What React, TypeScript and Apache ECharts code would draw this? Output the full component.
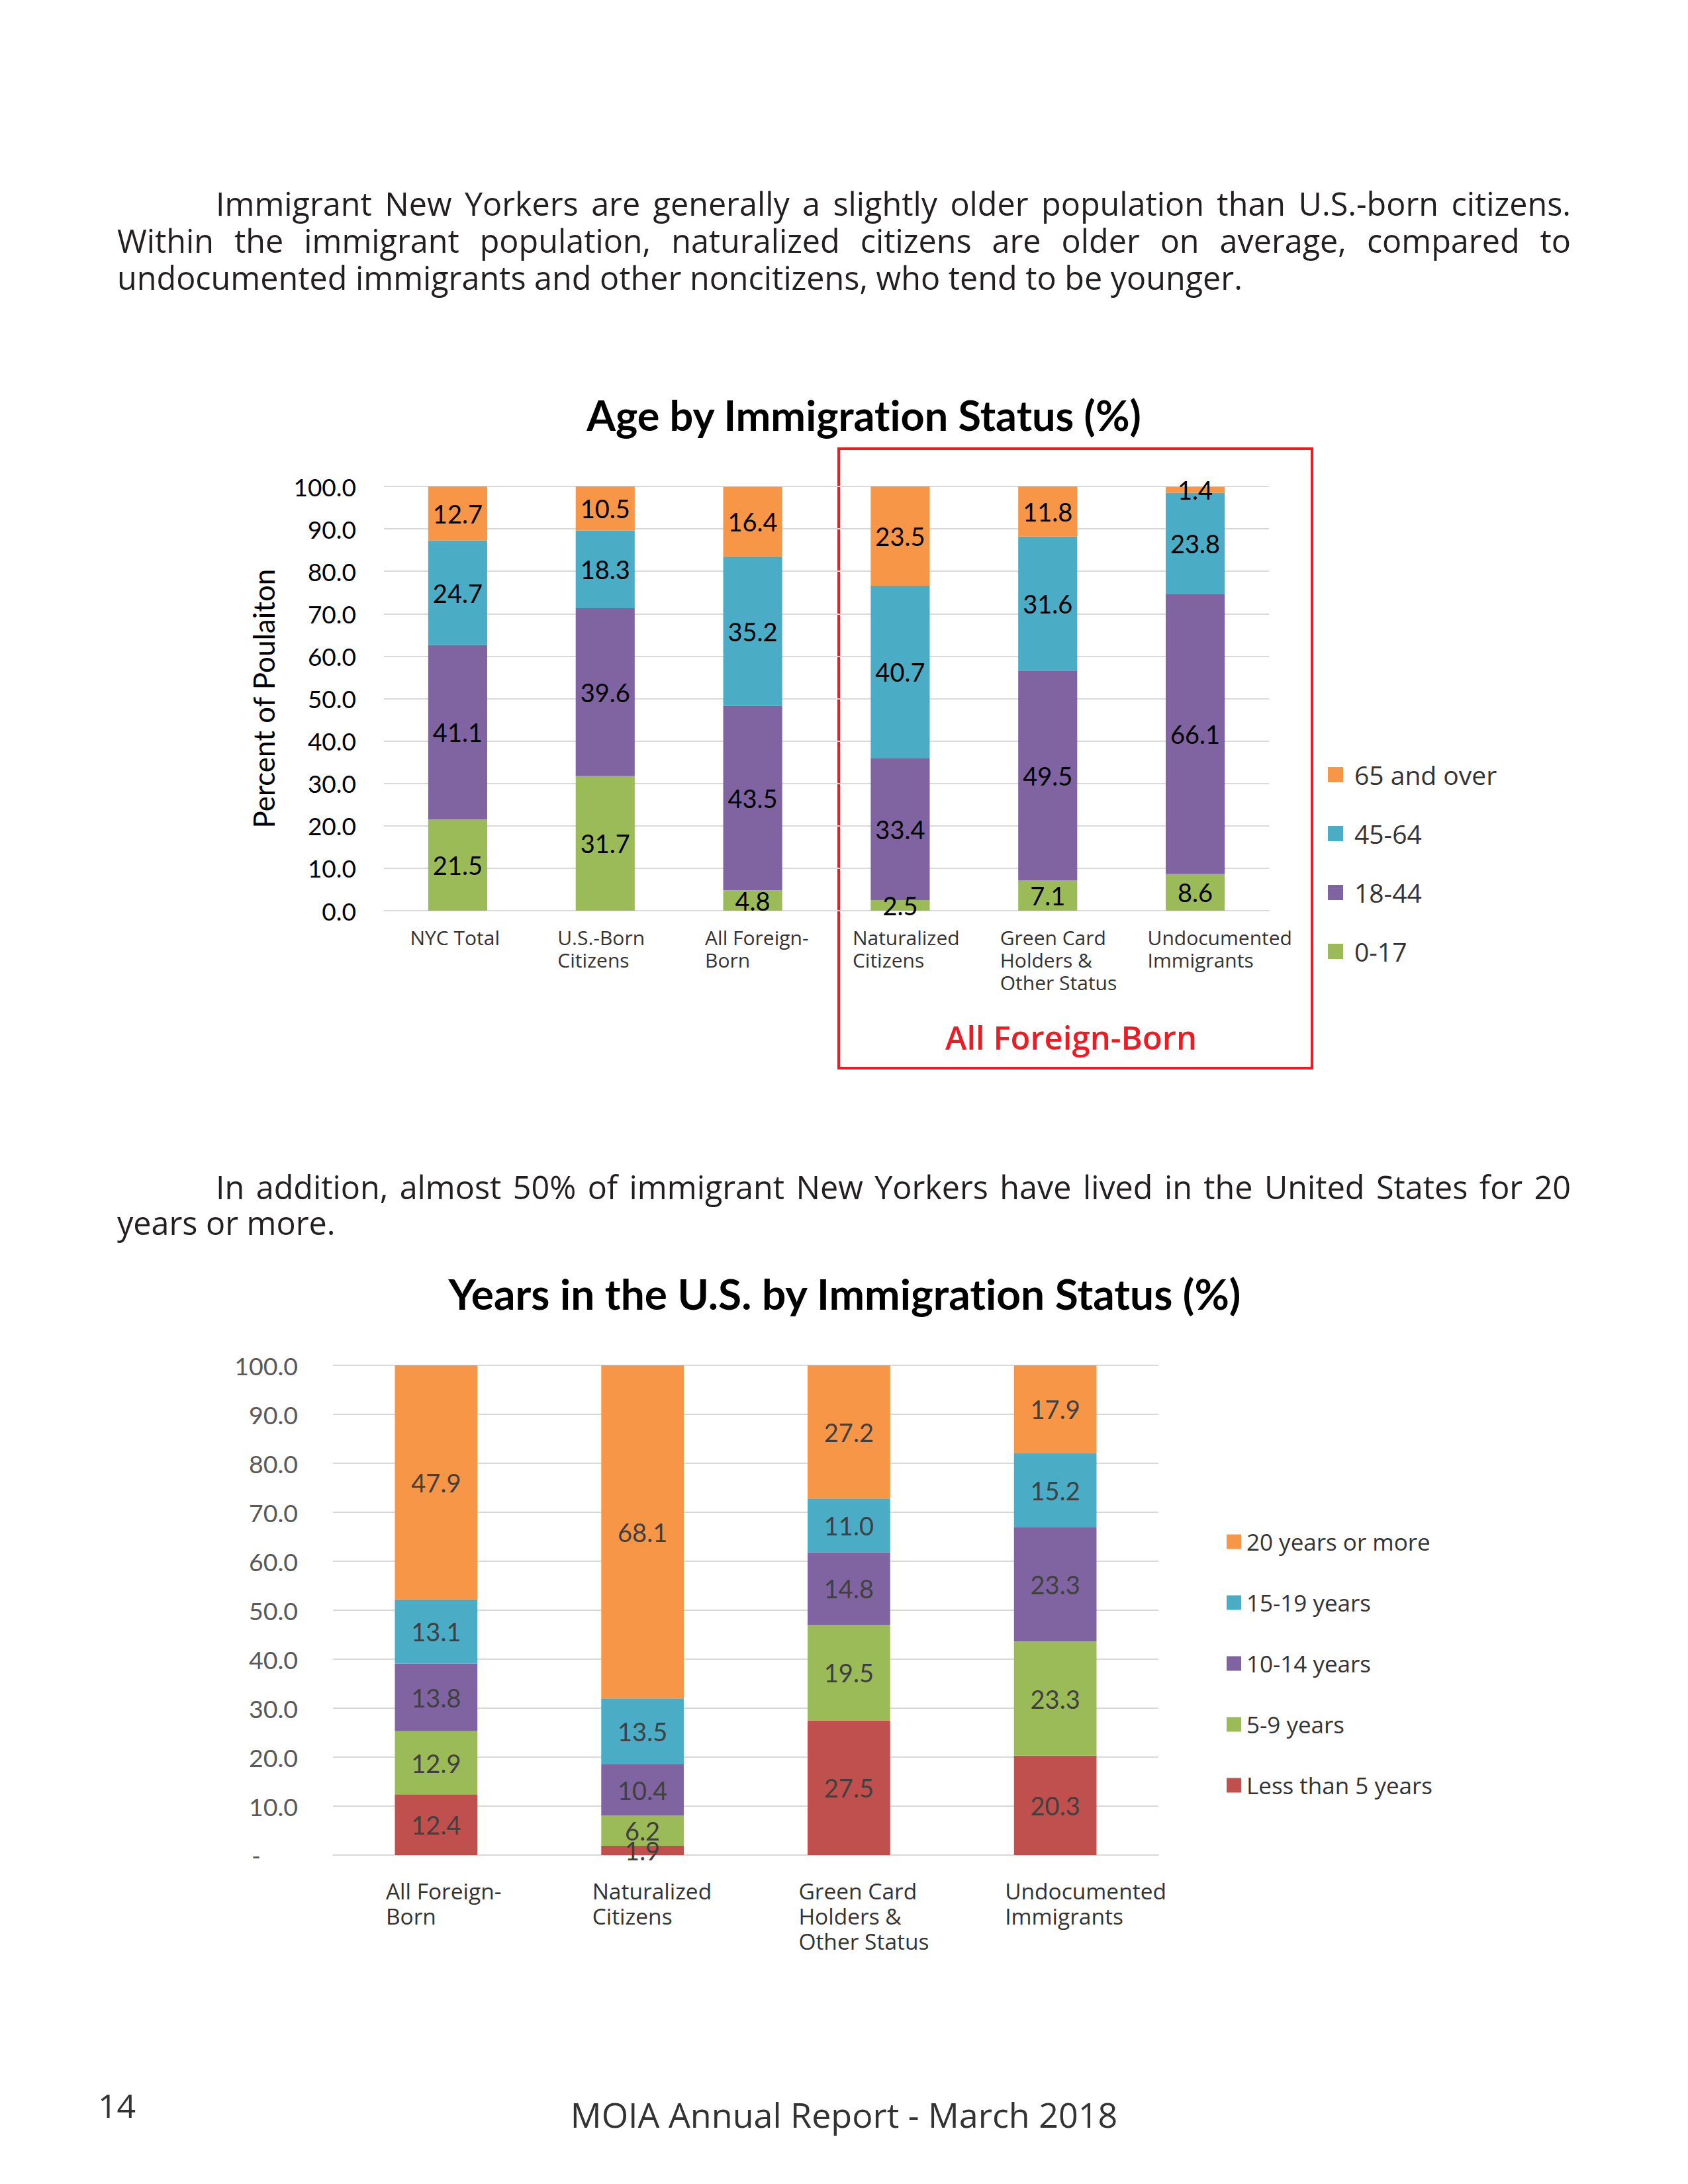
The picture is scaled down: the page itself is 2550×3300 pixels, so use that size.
import React, { useEffect, useRef } from 'react';
import * as echarts from 'echarts';

// ---------- DATA ----------
const ageCategories = [
  'NYC Total',
  'U.S.-Born\nCitizens',
  'All Foreign-\nBorn',
  'Naturalized\nCitizens',
  'Green Card\nHolders &\nOther Status',
  'Undocumented\nImmigrants',
];
const ageGroupNames = ['0-17', '18-44', '45-64', '65 and over'];
const age0to17 = [21.5, 31.7, 4.8, 2.5, 7.1, 8.6];
const age18to44 = [41.1, 39.6, 43.5, 33.4, 49.5, 66.1];
const age45to64 = [24.7, 18.3, 35.2, 40.7, 31.6, 23.8];
const age65plus = [12.7, 10.5, 16.4, 23.5, 11.8, 1.4];
const ageLegendOrder = ['65 and over', '45-64', '18-44', '0-17'];

const yearsCategories = [
  'All Foreign-\nBorn',
  'Naturalized\nCitizens',
  'Green Card\nHolders &\nOther Status',
  'Undocumented\nImmigrants',
];
const yearsGroupNames = ['Less than 5 years', '5-9 years', '10-14 years', '15-19 years', '20 years or more'];
const yearsLess5 = [12.4, 1.9, 27.5, 20.3];
const years5to9 = [12.9, 6.2, 19.5, 23.3];
const years10to14 = [13.8, 10.4, 14.8, 23.3];
const years15to19 = [13.1, 13.5, 11.0, 15.2];
const years20plus = [47.9, 68.1, 27.2, 17.9];
const yearsLegendOrder = ['20 years or more', '15-19 years', '10-14 years', '5-9 years', 'Less than 5 years'];

const paragraph1 = [
  'Immigrant New Yorkers are generally a slightly older population than U.S.-born citizens.',
  'Within the immigrant population, naturalized citizens are older on average, compared to',
  'undocumented immigrants and other noncitizens, who tend to be younger.',
];
const paragraph2 = [
  'In addition, almost 50% of immigrant New Yorkers have lived in the United States for 20',
  'years or more.',
];

// ---------- STYLE ----------
const ORANGE = '#F79646';
const BLUE = '#4BACC6';
const PURPLE = '#8064A2';
const GREEN = '#9BBB59';
const RED = '#C0504D';
const GRID_GRAY = '#d9d9d9';
const BOX_RED = '#ED1C24';

const ageSeriesValues = [age0to17, age18to44, age45to64, age65plus];
const ageColors = [GREEN, PURPLE, BLUE, ORANGE];
const yearsSeriesValues = [yearsLess5, years5to9, years10to14, years15to19, years20plus];
const yearsColors = [RED, GREEN, PURPLE, BLUE, ORANGE];

const catFormatter = (v: string) =>
  v
    .split('\n')
    .map((l) => `{a|${l}}`)
    .join('\n');

function buildOption() {
  const ageSeries = ageGroupNames.map((name, i) => ({
    type: 'bar',
    name,
    stack: 'age',
    xAxisIndex: 0,
    yAxisIndex: 0,
    data: ageSeriesValues[i],
    barWidth: '40%',
    itemStyle: { color: ageColors[i] },
    label: {
      show: true,
      position: 'inside',
      formatter: (p: any) => Number(p.value).toFixed(1),
      fontFamily: 'Lato',
      fontSize: 38,
      color: '#000',
    },
  }));
  const yearsSeries = yearsGroupNames.map((name, i) => ({
    type: 'bar',
    name,
    stack: 'years',
    xAxisIndex: 1,
    yAxisIndex: 1,
    data: yearsSeriesValues[i],
    barWidth: '40%',
    itemStyle: { color: yearsColors[i] },
    label: {
      show: true,
      position: 'inside',
      formatter: (p: any) => Number(p.value).toFixed(1),
      fontFamily: 'Lato',
      fontSize: 38,
      color: '#404040',
    },
  }));

  return {
    animation: false,
    backgroundColor: '#ffffff',
    grid: [
      { left: 580, width: 1337, top: 735, height: 641 },
      { left: 503, width: 1247, top: 2063, height: 740 },
    ],
    xAxis: [
      {
        type: 'category',
        gridIndex: 0,
        data: ageCategories,
        axisTick: { show: false },
        axisLine: { lineStyle: { color: GRID_GRAY, width: 2 } },
        axisLabel: {
          interval: 0,
          margin: 23,
          formatter: catFormatter,
          rich: {
            a: { fontFamily: 'Open Sans', fontSize: 30, lineHeight: 34, color: '#333', align: 'left', width: 144 },
          },
        },
      },
      {
        type: 'category',
        gridIndex: 1,
        data: yearsCategories,
        axisTick: { show: false },
        axisLine: { lineStyle: { color: GRID_GRAY, width: 2 } },
        axisLabel: {
          interval: 0,
          margin: 35,
          formatter: catFormatter,
          rich: {
            a: { fontFamily: 'Open Sans', fontSize: 33.5, lineHeight: 38, color: '#333', align: 'left', width: 152 },
          },
        },
      },
    ],
    yAxis: [
      {
        type: 'value',
        gridIndex: 0,
        min: 0,
        max: 100,
        interval: 10,
        axisLine: { show: false },
        axisTick: { show: false },
        splitLine: { lineStyle: { color: GRID_GRAY, width: 2 } },
        axisLabel: {
          formatter: (v: number) => v.toFixed(1),
          fontFamily: 'Lato',
          fontSize: 37,
          color: '#000',
          margin: 42,
        },
        name: 'Percent of Poulaiton',
        nameLocation: 'middle',
        nameGap: 160,
        nameTextStyle: { fontFamily: 'Lato', fontSize: 44, color: '#000' },
      },
      {
        type: 'value',
        gridIndex: 1,
        min: 0,
        max: 100,
        interval: 10,
        axisLine: { show: false },
        axisTick: { show: false },
        splitLine: { lineStyle: { color: GRID_GRAY, width: 2 } },
        axisLabel: {
          formatter: (v: number) => (v === 0 ? '{d|-}' : v.toFixed(1)),
          fontFamily: 'Lato',
          fontSize: 37.5,
          color: '#595959',
          margin: 53,
          rich: { d: { fontFamily: 'Lato', fontSize: 37.5, color: '#595959', width: 70, align: 'left' } },
        },
      },
    ],
    legend: [
      {
        data: ageLegendOrder,
        orient: 'vertical',
        left: 2001,
        top: 1146,
        icon: 'rect',
        itemWidth: 23,
        itemHeight: 23,
        itemGap: 50,
        selectedMode: false,
        textStyle: { fontFamily: 'Open Sans', fontSize: 39, lineHeight: 39, color: '#333', padding: [0, 0, 0, 12] },
      },
      {
        data: yearsLegendOrder,
        orient: 'vertical',
        left: 1848,
        top: 2307,
        icon: 'rect',
        itemWidth: 22,
        itemHeight: 22,
        itemGap: 57,
        selectedMode: false,
        textStyle: { fontFamily: 'Open Sans', fontSize: 35, lineHeight: 35, color: '#333', padding: [0, 0, 0, 3] },
      },
    ],
    graphic: [
      {
        type: 'text',
        x: 1305,
        y: 626,
        style: {
          text: 'Age by Immigration Status (%)',
          font: 'bold 63px Lato',
          fill: '#000',
          textAlign: 'center',
          textVerticalAlign: 'middle',
        },
      },
      {
        type: 'text',
        x: 1276,
        y: 1954,
        style: {
          text: 'Years in the U.S. by Immigration Status (%)',
          font: 'bold 64px Lato',
          fill: '#000',
          textAlign: 'center',
          textVerticalAlign: 'middle',
        },
      },
      {
        type: 'rect',
        shape: { x: 1267, y: 678, width: 715, height: 936 },
        style: { fill: 'none', stroke: BOX_RED, lineWidth: 4 },
      },
      {
        type: 'text',
        x: 1618,
        y: 1567,
        style: {
          text: 'All Foreign-Born',
          font: '600 49px "Open Sans"',
          fill: BOX_RED,
          textAlign: 'center',
          textVerticalAlign: 'middle',
        },
      },
      {
        type: 'text',
        x: 148,
        y: 3181,
        style: {
          text: '14',
          font: '50px "Open Sans"',
          fill: '#333',
          textAlign: 'left',
          textVerticalAlign: 'middle',
        },
      },
      {
        type: 'text',
        x: 1275,
        y: 3194,
        style: {
          text: 'MOIA Annual Report - March 2018',
          font: '52px "Open Sans"',
          fill: '#333',
          textAlign: 'center',
          textVerticalAlign: 'middle',
        },
      },
    ],
    series: [...ageSeries, ...yearsSeries],
  };
}

const TEXT_RIGHT = 2373;

const lineBase: React.CSSProperties = {
  position: 'absolute',
  height: 56,
  lineHeight: '56px',
  fontFamily: "'Open Sans', sans-serif",
  fontSize: 48.5,
  color: '#231f20',
  margin: 0,
  padding: 0,
};

function ParaLine({ text, left, top, justify }: { text: string; left: number; top: number; justify: boolean }) {
  return (
    <div
      style={{
        ...lineBase,
        left,
        top,
        width: TEXT_RIGHT - left,
        textAlign: justify ? 'justify' : 'left',
        textAlignLast: justify ? 'justify' : 'left',
      }}
    >
      {text}
    </div>
  );
}

export default function App() {
  const ref = useRef<HTMLDivElement>(null);
  useEffect(() => {
    document.body.style.margin = '0';
    document.documentElement.style.overflow = 'hidden';
    document.body.style.overflow = 'hidden';
    const chart = echarts.init(ref.current as HTMLDivElement, null, { renderer: 'svg' });
    chart.setOption(buildOption() as any);
    return () => {
      chart.dispose();
    };
  }, []);

  const p1Tops = [279, 335, 391];
  const p2Tops = [1765, 1819];

  return (
    <div
      style={{
        position: 'fixed',
        left: 0,
        top: 0,
        width: 2550,
        height: 3300,
        background: '#fff',
        overflow: 'hidden',
      }}
    >
      <style>{`text { font-variant-ligatures: none !important; font-feature-settings: "liga" 0, "clig" 0 !important; }`}</style>
      <div ref={ref} style={{ position: 'absolute', left: 0, top: 0, width: 2550, height: 3300 }} />
      {paragraph1.map((t, i) => (
        <ParaLine key={'p1' + i} text={t} left={i === 0 ? 326 : 177} top={p1Tops[i]} justify={i < paragraph1.length - 1} />
      ))}
      {paragraph2.map((t, i) => (
        <ParaLine key={'p2' + i} text={t} left={i === 0 ? 326 : 177} top={p2Tops[i]} justify={i < paragraph2.length - 1} />
      ))}
    </div>
  );
}
